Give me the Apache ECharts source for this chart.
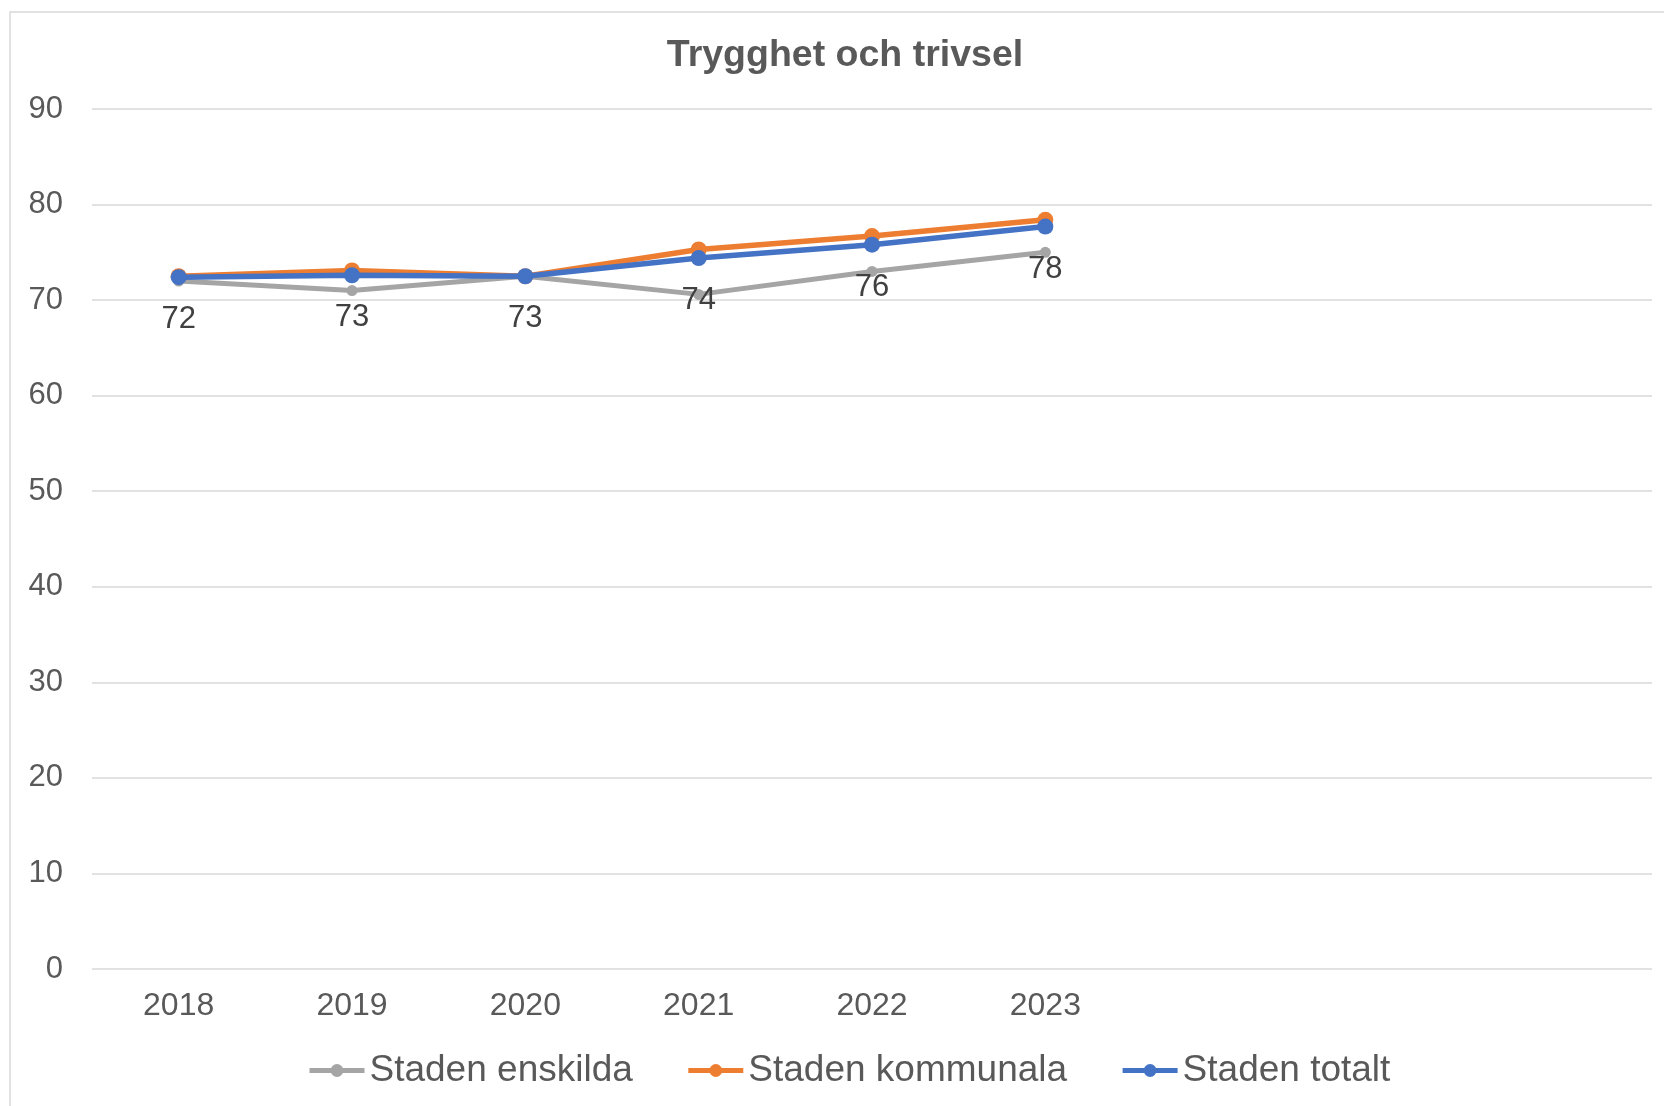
<!DOCTYPE html>
<html>
<head>
<meta charset="utf-8">
<script src="https://cdn.jsdelivr.net/npm/echarts@6/dist/echarts.min.js"></script>
<style>
    html, body {margin: 0; padding: 0; background: #fff;}
    #chart {width: 1664px; height: 1106px;}
</style>
</head>
<body>
<div id="chart"></div>
<script>
var years = ['2018', '2019', '2020', '2021', '2022', '2023', '', '', ''];
var enskilda = [72.0, 71.0, 72.5, 70.6, 73.0, 75.0];
var kommunala = [72.5, 73.1, 72.5, 75.3, 76.7, 78.4];
var totalt = [72.4, 72.6, 72.5, 74.4, 75.8, 77.7];
var yTicks = [0, 10, 20, 30, 40, 50, 60, 70, 80, 90];

var font = '"Liberation Sans", Arial, sans-serif';

var myChart = echarts.init(document.getElementById('chart'));

var option = {
    backgroundColor: '#fff',
    textStyle: {fontFamily: font},
    graphic: [{
        type: 'rect',
        shape: {x: 10, y: 12, width: 1700, height: 1200},
        style: {fill: 'none', stroke: '#d9d9d9', lineWidth: 1.5},
        silent: true
    }],
    title: {
        text: 'Trygghet och trivsel',
        left: 840,
        top: 32,
        textAlign: 'center',
        textStyle: {
            fontFamily: font,
            fontSize: 37.5,
            fontWeight: 'bold',
            color: '#595959'
        }
    },
    legend: {
        data: ['Staden enskilda', 'Staden kommunala', 'Staden totalt'],
        left: 302,
        top: 1047,
        itemWidth: 55,
        itemHeight: 16,
        itemGap: 53,
        lineStyle: {width: 5},
        textStyle: {fontFamily: font, fontSize: 37, color: '#595959'}
    },
    grid: {
        left: 92,
        right: 12,
        top: 109,
        bottom: 137,
        containLabel: false
    },
    xAxis: {
        type: 'category',
        data: years,
        boundaryGap: true,
        axisLine: {show: false},
        axisTick: {show: false},
        axisLabel: {
            fontFamily: font,
            fontSize: 32,
            color: '#595959',
            margin: 21
        }
    },
    yAxis: {
        type: 'value',
        min: yTicks[0],
        max: yTicks[yTicks.length - 1],
        interval: 10,
        axisLine: {show: false},
        axisTick: {show: false},
        axisLabel: {
            fontFamily: font,
            fontSize: 31,
            color: '#595959',
            margin: 29
        },
        splitLine: {lineStyle: {color: '#d9d9d9', width: 1.5}}
    },
    series: [
        {
            name: 'Staden enskilda',
            type: 'line',
            data: enskilda,
            color: '#a5a5a5',
            symbol: 'circle',
            symbolSize: 11,
            lineStyle: {width: 5},
            z: 2
        },
        {
            name: 'Staden kommunala',
            type: 'line',
            data: kommunala,
            color: '#ed7d31',
            symbol: 'circle',
            symbolSize: 16,
            lineStyle: {width: 5.5},
            z: 3
        },
        {
            name: 'Staden totalt',
            type: 'line',
            data: totalt,
            color: '#4472c4',
            symbol: 'circle',
            symbolSize: 16,
            lineStyle: {width: 5.5},
            z: 4,
            label: {
                show: true,
                position: 'bottom',
                distance: 19,
                fontFamily: font,
                fontSize: 31,
                color: '#404040',
                formatter: function (p) {
                    return Math.round(p.value);
                }
            }
        }
    ]
};
myChart.setOption(option);
</script>
</body>
</html>
